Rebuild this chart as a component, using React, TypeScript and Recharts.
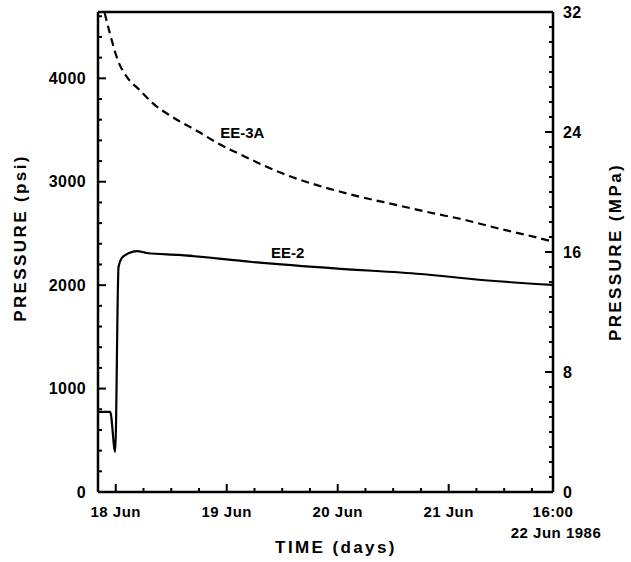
import { LineChart, Line, XAxis, YAxis, ReferenceLine, ReferenceDot, Label } from "recharts";

// time in days after 18 Jun 00:00, pressure in psi
const ee2Days = [-0.16, -0.05, -0.005, 0.025, 0.055, 0.12, 0.19, 0.28, 0.57, 1.23, 2.0, 2.75, 3.3, 3.94];
const ee2Psi = [774, 774, 387, 2176, 2263, 2310, 2330, 2311, 2292, 2224, 2160, 2108, 2050, 2002];

const ee3aDays = [-0.1, -0.054, 0.018, 0.1, 0.215, 0.33, 0.51, 0.75, 0.915, 1.16, 1.47, 2.07, 2.55, 2.84, 3.15, 3.44, 3.74, 3.94];
const ee3aPsi = [4632, 4439, 4177, 4013, 3887, 3762, 3626, 3481, 3375, 3245, 3094, 2890, 2770, 2700, 2630, 2550, 2475, 2420];

const dayLabels = ["18 Jun", "19 Jun", "20 Jun", "21 Jun"];
const endLabel = "16:00";
const endDate = "22 Jun 1986";
const X_MIN = -0.16;
const X_END = 3.94;
const xTicks = [0, 0.25, 0.5, 0.75, 1, 1.25, 1.5, 1.75, 2, 2.25, 2.5, 2.75, 3, 3.25, 3.5, 3.75, X_END];

const MPA_MAX = 32;
const PSI_MAX = MPA_MAX * 145.038;
const psiTicks = Array.from({ length: 24 }, (_, i) => i * 200);
const mpaTicks = Array.from({ length: 33 }, (_, i) => i);

const ee2 = ee2Days.map((t, i) => ({ t, p: ee2Psi[i] }));
const ee3a = ee3aDays.map((t, i) => ({ t, p: ee3aPsi[i] }));

const FONT = "'Liberation Sans', Arial, Helvetica, sans-serif";

function PsiTick({ x, y, payload }: any) {
  const v = payload.value;
  const major = v % 1000 === 0;
  return (
    <g>
      <line x1={x} x2={x + (major ? 8 : 4)} y1={y} y2={y} stroke="#000" strokeWidth={2} />
      {major && (
        <text x={x - 12} y={y} textAnchor="end" dominantBaseline="central" fontFamily={FONT} fontWeight="bold" fontSize={16} letterSpacing={0.4} fill="#000">
          {v}
        </text>
      )}
    </g>
  );
}

function MpaTick({ x, y, payload }: any) {
  const v = payload.value;
  const major = v % 8 === 0;
  return (
    <g>
      <line x1={x} x2={x - (major ? 8 : 4)} y1={y} y2={y} stroke="#000" strokeWidth={2} />
      {major && (
        <text x={x + 10} y={y} textAnchor="start" dominantBaseline="central" fontFamily={FONT} fontWeight="bold" fontSize={16} letterSpacing={0.4} fill="#000">
          {v}
        </text>
      )}
    </g>
  );
}

function TimeTick({ x, y, payload }: any) {
  const v = payload.value;
  const isEnd = v === X_END;
  const major = Number.isInteger(v) || isEnd;
  const style = { fontFamily: FONT, fontWeight: "bold", fontSize: 15, letterSpacing: 0.5, fill: "#000" } as any;
  return (
    <g>
      {!isEnd && <line x1={x} x2={x} y1={y} y2={y - (major ? 8 : 4)} stroke="#000" strokeWidth={2} />}
      {Number.isInteger(v) && (
        <text x={x} y={y + 25} textAnchor="middle" {...style}>
          {dayLabels[v]}
        </text>
      )}
      {isEnd && (
        <>
          <text x={x} y={y + 25} textAnchor="middle" {...style}>
            {endLabel}
          </text>
          <text x={x + 3} y={y + 46} textAnchor="middle" {...style}>
            {endDate}
          </text>
        </>
      )}
    </g>
  );
}

const titleStyle = { fontFamily: FONT, fontWeight: "bold", fontSize: 17, letterSpacing: 2.4, fill: "#000" } as any;

export default function App() {
  return (
    <div style={{ position: "absolute", left: 0, top: 0, background: "#fff" }}>
      <LineChart width={631} height={562} margin={{ top: 12, right: 28, bottom: 40, left: 38 }}>
        <XAxis
          type="number"
          dataKey="t"
          domain={[X_MIN, X_END]}
          ticks={xTicks}
          allowDataOverflow
          height={30}
          tickSize={0}
          tickMargin={0}
          tickLine={false}
          tick={<TimeTick />}
          axisLine={{ stroke: "#000", strokeWidth: 2.5 }}
          interval={0}
        >
          <Label
            content={() => (
              <text x={336} y={553} textAnchor="middle" {...titleStyle}>
                TIME (days)
              </text>
            )}
          />
        </XAxis>
        <YAxis
          yAxisId="psi"
          type="number"
          domain={[0, PSI_MAX]}
          ticks={psiTicks}
          allowDataOverflow
          width={60}
          tickSize={0}
          tickMargin={0}
          tickLine={false}
          tick={<PsiTick />}
          axisLine={{ stroke: "#000", strokeWidth: 2.5 }}
          interval={0}
        >
          <Label
            content={() => (
              <text x={26} y={238} transform="rotate(-90 26 238)" textAnchor="middle" {...titleStyle}>
                PRESSURE (psi)
              </text>
            )}
          />
        </YAxis>
        <YAxis
          yAxisId="mpa"
          orientation="right"
          type="number"
          domain={[0, MPA_MAX]}
          ticks={mpaTicks}
          allowDataOverflow
          width={50}
          tickSize={0}
          tickMargin={0}
          tickLine={false}
          tick={<MpaTick />}
          axisLine={{ stroke: "#000", strokeWidth: 2.5 }}
          interval={0}
        >
          <Label
            content={() => (
              <text x={621} y={252} transform="rotate(-90 621 252)" textAnchor="middle" {...titleStyle}>
                PRESSURE (MPa)
              </text>
            )}
          />
        </YAxis>
        <ReferenceLine yAxisId="mpa" y={MPA_MAX} stroke="#000" strokeWidth={2.5} />
        <Line
          yAxisId="psi"
          data={ee3a}
          dataKey="p"
          type="monotone"
          stroke="#000"
          strokeWidth={2.2}
          strokeDasharray="8 5"
          dot={false}
          isAnimationActive={false}
        />
        <Line
          yAxisId="psi"
          data={ee2}
          dataKey="p"
          type="monotone"
          stroke="#000"
          strokeWidth={2.2}
          dot={false}
          isAnimationActive={false}
        />
        <ReferenceDot
          yAxisId="psi"
          x={1.14}
          y={3471}
          r={0}
          label={{ value: "EE-3A", position: "center", fontFamily: FONT, fontWeight: "bold", fontSize: 15, fill: "#000" }}
        />
        <ReferenceDot
          yAxisId="psi"
          x={1.55}
          y={2311}
          r={0}
          label={{ value: "EE-2", position: "center", fontFamily: FONT, fontWeight: "bold", fontSize: 15, fill: "#000" }}
        />
      </LineChart>
    </div>
  );
}
